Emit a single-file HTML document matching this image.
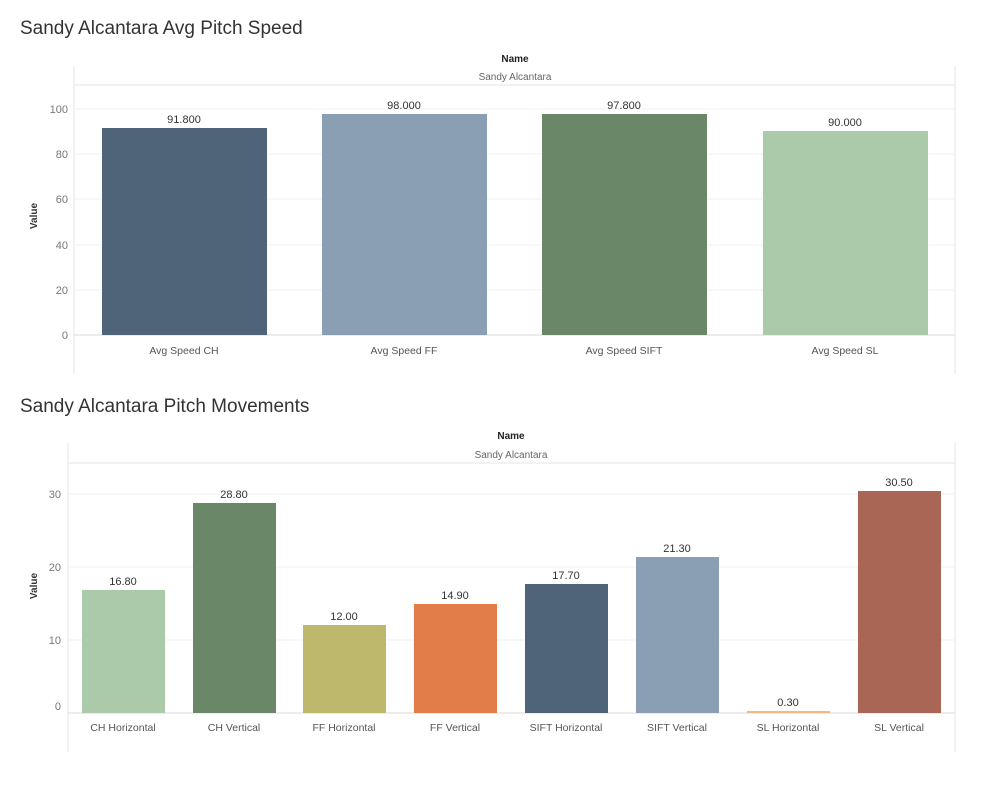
<!DOCTYPE html>
<html><head><style>
body{margin:0;background:#fff;width:992px;height:790px;overflow:hidden}
svg text{font-family:"Liberation Sans",sans-serif}
</style></head><body>
<svg width="992" height="790" xmlns="http://www.w3.org/2000/svg">
<text x="20" y="34" font-size="19" fill="#333">Sandy Alcantara Avg Pitch Speed</text>
<text x="515" y="62" font-size="10" font-weight="bold" text-anchor="middle" fill="#222">Name</text>
<text x="515" y="80" font-size="10" text-anchor="middle" fill="#666">Sandy Alcantara</text>
<g stroke="#e6e6e6" stroke-width="1">
<line x1="74" y1="66" x2="74" y2="374"/><line x1="955" y1="66" x2="955" y2="374"/>
<line x1="74" y1="85" x2="955" y2="85"/>
<line x1="74" y1="109" x2="955" y2="109" stroke="#f0f0f0"/>
<line x1="74" y1="154" x2="955" y2="154" stroke="#f0f0f0"/>
<line x1="74" y1="199" x2="955" y2="199" stroke="#f0f0f0"/>
<line x1="74" y1="245" x2="955" y2="245" stroke="#f0f0f0"/>
<line x1="74" y1="290" x2="955" y2="290" stroke="#f0f0f0"/>
<line x1="74" y1="335" x2="955" y2="335" stroke="#d8d8d8"/>
</g>
<g font-size="11" fill="#777" text-anchor="end">
<text x="68" y="113">100</text><text x="68" y="158">80</text><text x="68" y="203">60</text>
<text x="68" y="249">40</text><text x="68" y="294">20</text><text x="68" y="339">0</text>
</g>
<text transform="translate(37,216) rotate(-90)" font-size="10" font-weight="bold" text-anchor="middle" fill="#333">Value</text>
<rect x="102" y="128" width="165" height="207" fill="#4f6479"/>
<rect x="322" y="114" width="165" height="221" fill="#8a9fb4"/>
<rect x="542" y="114" width="165" height="221" fill="#6a8867"/>
<rect x="763" y="131" width="165" height="204" fill="#abcaa9"/>
<g font-size="11" fill="#333" text-anchor="middle">
<text x="184" y="123">91.800</text><text x="404" y="109">98.000</text>
<text x="624" y="109">97.800</text><text x="845" y="126">90.000</text>
</g>
<g font-size="10.5" fill="#555" text-anchor="middle">
<text x="184" y="354">Avg Speed CH</text><text x="404" y="354">Avg Speed FF</text>
<text x="624" y="354">Avg Speed SIFT</text><text x="845" y="354">Avg Speed SL</text>
</g>

<text x="20" y="412" font-size="19" fill="#333">Sandy Alcantara Pitch Movements</text>
<text x="511" y="439" font-size="10" font-weight="bold" text-anchor="middle" fill="#222">Name</text>
<text x="511" y="458" font-size="10" text-anchor="middle" fill="#666">Sandy Alcantara</text>
<g stroke="#e6e6e6" stroke-width="1">
<line x1="68" y1="443" x2="68" y2="752"/><line x1="955" y1="443" x2="955" y2="752"/>
<line x1="68" y1="463" x2="955" y2="463"/>
<line x1="68" y1="494" x2="955" y2="494" stroke="#f0f0f0"/>
<line x1="68" y1="567" x2="955" y2="567" stroke="#f0f0f0"/>
<line x1="68" y1="640" x2="955" y2="640" stroke="#f0f0f0"/>
<line x1="68" y1="713" x2="955" y2="713" stroke="#d8d8d8"/>
</g>
<g font-size="11" fill="#777" text-anchor="end">
<text x="61" y="498">30</text><text x="61" y="571">20</text><text x="61" y="644">10</text><text x="61" y="710">0</text>
</g>
<text transform="translate(37,586) rotate(-90)" font-size="10" font-weight="bold" text-anchor="middle" fill="#333">Value</text>
<rect x="82" y="590" width="83" height="123" fill="#abcaa9"/>
<rect x="193" y="503" width="83" height="210" fill="#6a8867"/>
<rect x="303" y="625" width="83" height="88" fill="#bdb86c"/>
<rect x="414" y="604" width="83" height="109" fill="#e27c48"/>
<rect x="525" y="584" width="83" height="129" fill="#4f6479"/>
<rect x="636" y="557" width="83" height="156" fill="#8a9fb4"/>
<rect x="747" y="711" width="83" height="2" fill="#f5b77a"/>
<rect x="858" y="491" width="83" height="222" fill="#a96655"/>
<g font-size="11" fill="#333" text-anchor="middle">
<text x="123" y="585">16.80</text><text x="234" y="498">28.80</text><text x="344" y="620">12.00</text>
<text x="455" y="599">14.90</text><text x="566" y="579">17.70</text><text x="677" y="552">21.30</text>
<text x="788" y="706">0.30</text><text x="899" y="486">30.50</text>
</g>
<g font-size="10.5" fill="#555" text-anchor="middle">
<text x="123" y="731">CH Horizontal</text><text x="234" y="731">CH Vertical</text><text x="344" y="731">FF Horizontal</text>
<text x="455" y="731">FF Vertical</text><text x="566" y="731">SIFT Horizontal</text><text x="677" y="731">SIFT Vertical</text>
<text x="788" y="731">SL Horizontal</text><text x="899" y="731">SL Vertical</text>
</g>
</svg>
</body></html>
